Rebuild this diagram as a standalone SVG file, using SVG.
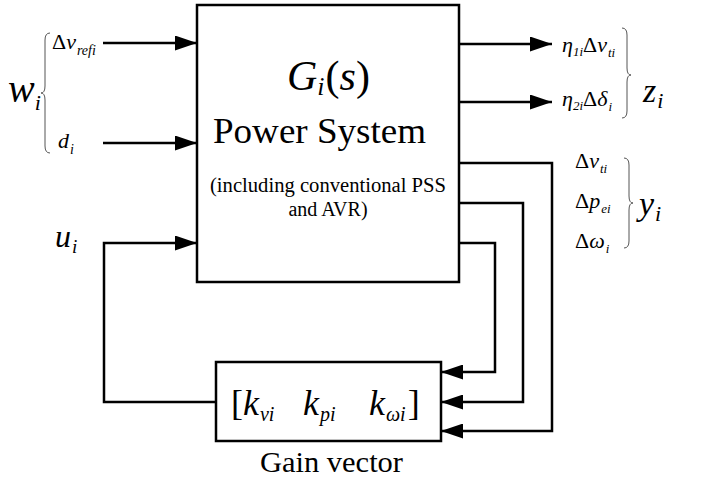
<svg xmlns="http://www.w3.org/2000/svg" width="701" height="480" viewBox="0 0 701 480">
<style>
.ln{fill:none;stroke:#000;stroke-width:2.5}
.br{fill:none;stroke:#555;stroke-width:1}
.box{fill:#fff;stroke:#000;stroke-width:2.5}
text{font-family:"Liberation Serif","Times New Roman",serif;fill:#000}
.it{font-style:italic}
.up{font-style:normal}
</style>
<defs>
<marker id="ah" markerUnits="userSpaceOnUse" markerWidth="23" markerHeight="15" refX="22" refY="7.5" orient="auto">
<path d="M0,0 L22,7.5 L0,15 z" fill="#000"/>
</marker>
</defs>

<g id="power-system">
<rect class="box" x="197" y="5" width="262" height="277"/>
<text class="it" x="287" y="90" font-size="42">G<tspan font-size="26" dy="5">i</tspan><tspan class="up" dy="-5" dx="1">(</tspan>s<tspan class="up">)</tspan></text>
<text x="213" y="143" font-size="36" textLength="213" lengthAdjust="spacingAndGlyphs">Power System</text>
<text x="210" y="192" font-size="20" textLength="236" lengthAdjust="spacingAndGlyphs">(including conventional PSS</text>
<text x="328" y="216" font-size="20" text-anchor="middle">and AVR)</text>
</g>

<g id="gain-vector">
<rect class="box" x="216" y="362" width="225" height="79"/>
<text x="231" y="415" font-size="36">[<tspan class="it">k</tspan><tspan class="it" font-size="20" dy="6" dx="1">vi</tspan></text>
<text x="303" y="415" font-size="36"><tspan class="it">k</tspan><tspan class="it" font-size="20" dy="6" dx="1">pi</tspan></text>
<text x="369" y="415" font-size="36"><tspan class="it">k</tspan><tspan class="it" font-size="20" dy="6" dx="1">ωi</tspan><tspan dy="-6" dx="2">]</tspan></text>
<text x="260" y="472" font-size="29" textLength="143" lengthAdjust="spacingAndGlyphs">Gain vector</text>
</g>

<g id="inputs-w">
<path class="br" d="M50,33 Q45,33 45,40 L45,86 Q45,93 41,93 Q45,93 45,100 L45,146 Q45,153 50,153"/>
<text class="it" x="8" y="102" font-size="40">w<tspan font-size="22" dy="8">i</tspan></text>
<text x="52" y="49" font-size="22">Δ<tspan class="it">v</tspan><tspan class="it" font-size="14" dy="6" dx="1">refi</tspan></text>
<text class="it" x="58" y="148" font-size="22">d<tspan font-size="14" dy="6" dx="1">i</tspan></text>
</g>

<g id="input-u">
<text class="it" x="55" y="247" font-size="32">u<tspan font-size="19" dy="6" dx="1">i</tspan></text>
</g>

<g id="outputs-z">
<text x="562" y="52" font-size="22"><tspan class="it">η</tspan><tspan class="it" font-size="13" dy="4">1i</tspan><tspan dy="-4">Δ</tspan><tspan class="it">v</tspan><tspan class="it" font-size="13" dy="5" dx="1">ti</tspan></text>
<text x="562" y="106" font-size="22"><tspan class="it">η</tspan><tspan class="it" font-size="13" dy="4">2i</tspan><tspan dy="-4">Δ</tspan><tspan class="it">δ</tspan><tspan class="it" font-size="13" dy="5" dx="1">i</tspan></text>
<path class="br" d="M622,28 Q627,28 627,35 L627,68 Q627,75 631,75 Q627,75 627,82 L627,111 Q627,118 622,118"/>
<text class="it" x="643" y="102" font-size="34">z<tspan font-size="22" dy="6" dx="1">i</tspan></text>
</g>

<g id="outputs-y">
<text x="575" y="168" font-size="22">Δ<tspan class="it">v</tspan><tspan class="it" font-size="13" dy="5" dx="1">ti</tspan></text>
<text x="575" y="208" font-size="22">Δ<tspan class="it">p</tspan><tspan class="it" font-size="13" dy="5" dx="1">ei</tspan></text>
<text x="575" y="248" font-size="22">Δ<tspan class="it">ω</tspan><tspan class="it" font-size="13" dy="5" dx="1">i</tspan></text>
<path class="br" d="M624,158 Q629,158 629,165 L629,196 Q629,203 633,203 Q629,203 629,210 L629,241 Q629,248 624,248"/>
<text class="it" x="639" y="215" font-size="34">y<tspan font-size="22" dy="6" dx="1">i</tspan></text>
</g>

<g id="connectors">
<line class="ln" x1="103" y1="43" x2="197" y2="43" marker-end="url(#ah)"/>
<line class="ln" x1="103" y1="143" x2="197" y2="143" marker-end="url(#ah)"/>
<polyline class="ln" points="216,402 104,402 104,243 197,243" marker-end="url(#ah)"/>
<line class="ln" x1="459" y1="44" x2="552" y2="44" marker-end="url(#ah)"/>
<line class="ln" x1="459" y1="102" x2="552" y2="102" marker-end="url(#ah)"/>
<polyline class="ln" points="459,163 552,163 552,431 441,431" marker-end="url(#ah)"/>
<polyline class="ln" points="459,203 523,203 523,402 441,402" marker-end="url(#ah)"/>
<polyline class="ln" points="459,243 495,243 495,372 441,372" marker-end="url(#ah)"/>
</g>
</svg>
